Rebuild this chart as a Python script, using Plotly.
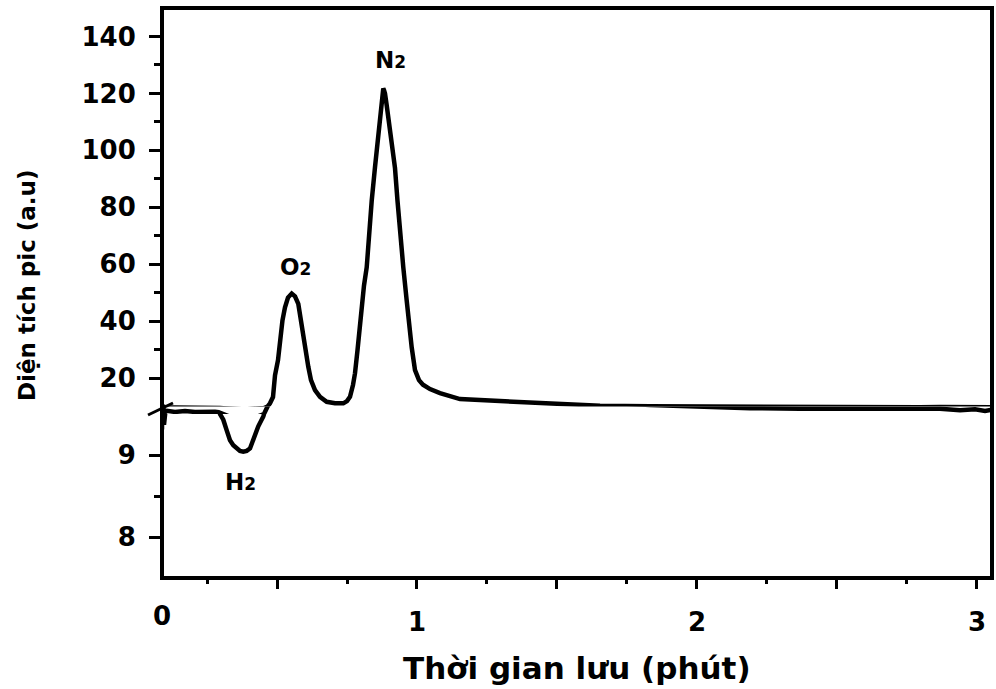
import plotly.graph_objects as go

# ---------------- data ----------------
time_min = [0.0893, 0.0929, 0.0964, 0.1000, 0.1071, 0.1357, 0.1714, 0.2071, 0.2429, 0.2786,
            0.2911, 0.2964, 0.3082, 0.3204, 0.3321, 0.3439, 0.3561, 0.3679, 0.3796, 0.3918,
            0.4036, 0.4125, 0.4214, 0.4332, 0.4511, 0.4536, 0.4661, 0.4750, 0.4857, 0.4929,
            0.5036, 0.5107, 0.5196, 0.5286, 0.5393, 0.5525, 0.5643, 0.5761, 0.5839, 0.5939,
            0.6029, 0.6118, 0.6214, 0.6357, 0.6536, 0.6775, 0.7071, 0.7368, 0.7500, 0.7607,
            0.7714, 0.7786, 0.7875, 0.7964, 0.8036, 0.8107, 0.8204, 0.8286, 0.8382, 0.8500,
            0.8618, 0.8679, 0.8739, 0.8768, 0.8796, 0.8821, 0.8857, 0.8918, 0.8975, 0.9089,
            0.9214, 0.9304, 0.9393, 0.9511, 0.9632, 0.9714, 0.9811, 0.9929, 1.0071, 1.0214,
            1.0464, 1.0821, 1.1536, 1.2964, 1.4750, 1.6536, 1.8321, 2.0000, 2.0143, 2.1893,
            2.3679, 2.5464, 2.7250, 2.7964, 2.8679, 2.9393, 2.9929, 3.0286, 3.0536]
signal = [9.31, 10.5, 9.37, 9.64, 9.71, 9.64, 9.70, 9.64, 9.68, 9.66,
          9.62, 9.50, 9.43, 9.30, 9.18, 9.12, 9.08, 9.05, 9.04, 9.05,
          9.08, 9.16, 9.26, 9.35, 9.47, 9.50, 10.0, 11.15, 13.36, 21.0,
          26.3, 33.3, 40.3, 44.9, 48.3, 49.7, 48.7, 46.1, 41.0, 35.6,
          29.8, 24.0, 19.3, 15.8, 13.4, 11.7, 11.15, 11.15, 11.95, 13.46,
          17.6, 21.7, 29.8, 39.2, 47.3, 52.5, 58.9, 70.7, 82.2, 94.1,
          105.7, 113.0, 118.9, 120.7, 121.7, 121.2, 120.0, 115.8, 111.3, 102.5,
          93.8, 82.2, 70.7, 58.9, 47.3, 38.5, 30.8, 22.8, 19.3, 17.7,
          16.15, 14.75, 12.65, 11.95, 11.25, 10.3, 10.1, 10.0, 9.93, 9.89,
          9.86, 9.86, 9.84, 9.79, 9.86, 9.75, 9.82, 9.71, 9.79]

peak_names = ["H<span style='font-size:17px'>2</span>",
              "O<span style='font-size:17px'>2</span>",
              "N<span style='font-size:17px'>2</span>"]
peak_label_x = [0.371, 0.565, 0.9036]
peak_label_y = [8.67, 59.2, 131.9]
peak_label_axis = ["y", "y3", "y3"]

x_range = [0.0893, 3.0536]
x_major_vals = [0.5, 1, 1.5, 2, 2.5, 3]
x_major_text = ["", "1", "", "2", "", "3"]
x_minor_vals = [0.25, 0.75, 1.25, 1.75, 2.25, 2.75]
x_origin_label = "0"

y_low_range = [7.5, 9.5]
y_low_major = [8, 9]
y_low_minor = [8.5]
y_mid_range = [9.5, 10]
y_up_range = [10, 150]
y_up_major = [20, 40, 60, 80, 100, 120, 140]
y_up_minor = [30, 50, 70, 90, 110, 130]

x_title = "Thời gian lưu (phút)"
y_title = "Diện tích pic (a.u)"

# ---------------- figure ----------------
FONT = "DejaVu Sans"
W, H = 996, 689
ML, MR, MT, MB = 162, 4, 8, 111
plot_w = W - ML - MR
plot_h = H - MT - MB
# pixel boundaries of the broken y axis
low_top = (578 - 414) / plot_h
up_bot = (578 - 406.6) / plot_h

fig = go.Figure()
for ax in ["y", "y2", "y3"]:
    fig.add_trace(go.Scatter(x=time_min, y=signal, mode="lines", xaxis="x", yaxis=ax,
                             line=dict(color="black", width=4.5), showlegend=False,
                             hoverinfo="skip"))

tickfont = dict(family=FONT, size=26, color="black", weight="bold")
common_y = dict(showgrid=False, zeroline=False, showline=False, anchor="x",
                ticks="outside", ticklen=12, tickwidth=3, tickcolor="black",
                tickfont=tickfont, ticklabelstandoff=8)

fig.update_layout(
    width=W, height=H,
    margin=dict(l=ML, r=MR, t=MT, b=MB),
    paper_bgcolor="white", plot_bgcolor="white",
    xaxis=dict(range=x_range, showgrid=False, zeroline=False, showline=False,
               tickmode="array", tickvals=x_major_vals, ticktext=x_major_text,
               ticks="outside", ticklen=10, tickwidth=3, tickcolor="black",
               tickfont=tickfont, ticklabelstandoff=11, anchor="y",
               minor=dict(tickmode="array", tickvals=x_minor_vals, ticks="outside",
                          ticklen=5, tickwidth=3, tickcolor="black")),
    yaxis=dict(domain=[0, low_top], range=y_low_range, tickmode="array",
               tickvals=y_low_major,
               minor=dict(tickmode="array", tickvals=y_low_minor, ticks="outside",
                          ticklen=7, tickwidth=3, tickcolor="black"),
               **common_y),
    yaxis2=dict(domain=[low_top, up_bot], range=y_mid_range, showticklabels=False,
                showgrid=False, zeroline=False, showline=False, anchor="x", ticks=""),
    yaxis3=dict(domain=[up_bot, 1], range=y_up_range, tickmode="array",
                tickvals=y_up_major,
                minor=dict(tickmode="array", tickvals=y_up_minor, ticks="outside",
                           ticklen=7, tickwidth=3, tickcolor="black"),
                **common_y),
)

# frame and axis-break mark
fig.add_shape(type="rect", xref="paper", yref="paper", x0=0, x1=1, y0=0, y1=1,
              line=dict(color="black", width=4), layer="above")
fig.add_shape(type="line", xref="paper", yref="paper",
              x0=-14 / plot_w, y0=(578 - 415) / plot_h, x1=11 / plot_w, y1=(578 - 403) / plot_h,
              line=dict(color="black", width=3), layer="above")

# peak labels
for name, px, py, ax in zip(peak_names, peak_label_x, peak_label_y, peak_label_axis):
    fig.add_annotation(x=px, y=py, xref="x", yref=ax, text=name, showarrow=False,
                       font=dict(family=FONT, size=23, color="black", weight="bold"),
                       xanchor="center", yanchor="middle")

# origin label "0"
fig.add_annotation(x=x_range[0], y=0, xref="x", yref="paper", yshift=-21,
                   text=x_origin_label, showarrow=False, xanchor="center", yanchor="top",
                   font=tickfont)

# axis titles
fig.add_annotation(x=0.5, y=-0.158, xref="paper", yref="paper", text=x_title,
                   showarrow=False, xanchor="center", yanchor="middle",
                   font=dict(family=FONT, size=31, color="black", weight="bold"))
fig.add_annotation(x=(27 - ML) / plot_w, y=(578 - 285) / plot_h, xref="paper", yref="paper",
                   text=y_title, textangle=-90, showarrow=False,
                   xanchor="center", yanchor="middle",
                   font=dict(family=FONT, size=23, color="black", weight="bold"))

fig.write_html("out.html", config={"displayModeBar": False},
               post_script="document.body.style.margin='0';document.body.style.overflow='hidden';")
